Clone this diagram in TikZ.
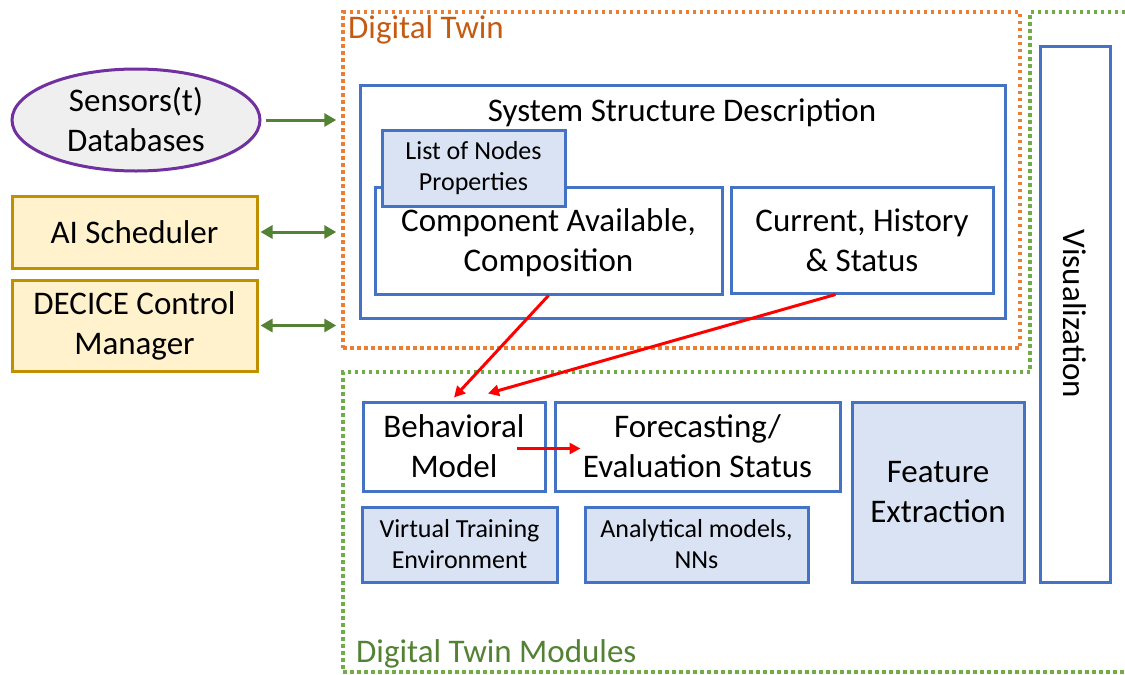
\documentclass[tikz,border=0pt]{standalone}
\usepackage{fontspec}
\setmainfont{Carlito}
\usetikzlibrary{shapes.geometric,arrows.meta,calc}

\definecolor{boxblue}{HTML}{4472C4}
\definecolor{lightblue}{HTML}{DAE3F3}
\definecolor{gold}{HTML}{BF9000}
\definecolor{cream}{HTML}{FFF2CC}
\definecolor{purp}{HTML}{7030A0}
\definecolor{lgray}{HTML}{EFEFEF}
\definecolor{arrgreen}{HTML}{548235}
\definecolor{dotgreen}{HTML}{70AD47}
\definecolor{dotorange}{HTML}{ED7D31}
\definecolor{dtorange}{HTML}{C55A11}
\definecolor{modgreen}{HTML}{548235}

\tikzset{
  big/.style={font=\fontsize{33}{40}\selectfont},
  small/.style={font=\fontsize{26}{31}\selectfont},
  bx/.style={draw=boxblue, line width=3pt, fill=white, align=center, inner sep=0pt, big},
  lbx/.style={bx, fill=lightblue},
  gbx/.style={draw=gold, line width=3pt, fill=cream, align=center, inner sep=0pt, big},
  zone/.style={line width=3.5pt, dash pattern=on 3.5pt off 3.5pt, inner sep=0pt},
  garrow/.style={draw=arrgreen, line width=3pt, -{Triangle[length=12pt,width=13pt]}},
  garrow2/.style={draw=arrgreen, line width=3pt, {Triangle[length=12pt,width=13pt]}-{Triangle[length=12pt,width=13pt]}},
  rarrow/.style={draw=red, line width=3pt, -{Triangle[length=11pt,width=11pt]}},
}

\begin{document}
\begin{tikzpicture}[x=1pt, y=-1pt]
\useasboundingbox[fill=white] (0,0) rectangle (1125,675);

% outer zones
\node[zone, draw=dotorange, minimum width=677, minimum height=336] (dt) at (681.5,180) {};
\node[anchor=north west, text=dtorange, big, inner sep=0pt] (dtlabel) at (348,15) {Digital Twin};
\draw[zone, draw=dotgreen] (1125,12) -- (1030,12) -- (1030,372) -- (343,372) -- (343,672) -- (1125,672);
\node[anchor=south west, text=modgreen, big, inner sep=0pt] (modlabel) at (356,668) {Digital Twin Modules};

% external inputs
\node[ellipse, draw=purp, fill=lgray, line width=3pt, minimum width=248, minimum height=102, align=center, inner sep=0pt, big] (sens) at (136,120) {Sensors(t)\\Databases};
\node[gbx, minimum width=245, minimum height=72] (ai) at (134.5,232) {AI Scheduler};
\node[gbx, minimum width=245, minimum height=91] (dec) at (134.5,325.5) {DECICE Control\\Manager};

% system structure description
\node[bx, minimum width=645, minimum height=233] (ssd) at (682.5,201.5) {};
\node[big, inner sep=0pt] (ssdlabel) at (682,113) {System Structure Description};
\node[bx, minimum width=347, minimum height=107] (comp) at (548.5,240.5) {};
\node[big, align=center, inner sep=0pt] (comptext) at (548.5,243) {Component Available,\\Composition};
\node[bx, minimum width=262, minimum height=106] (cur) at (862,240) {Current, History\\\& Status};
\node[lbx, small, minimum width=183, minimum height=76] (list) at (473.5,168) {List of Nodes\\Properties};

% visualization column
\node[bx, minimum width=70, minimum height=536] (vis) at (1075,314) {};
\node[big, rotate=-90, inner sep=0pt] (vislabel) at (vis.center) {Visualization};

% modules
\node[bx, minimum width=182, minimum height=89] (beh) at (454,446.5) {Behavioral\\Model};
\node[bx, minimum width=285, minimum height=89] (fore) at (697.5,446.5) {Forecasting/\\Evaluation Status};
\node[lbx, minimum width=172, minimum height=180] (feat) at (938,492) {Feature\\Extraction};
\node[lbx, small, minimum width=195, minimum height=75] (vte) at (459.5,544.5) {Virtual Training\\Environment};
\node[lbx, small, minimum width=223, minimum height=75] (ana) at (696.5,544.5) {Analytical models,\\NNs};

% green connectors to the digital twin
\draw[garrow] ([xshift=4pt]sens.east) -- ([xshift=-5pt]dt.west |- sens.east);
\draw[garrow2] ([xshift=2pt]ai.east) -- ([xshift=-5pt]dt.west |- ai.east);
\draw[garrow2] ([xshift=2pt]dec.east) -- ([xshift=-5pt]dt.west |- dec.east);

% red data flow
\draw[rarrow] (comp.south) -- ([yshift=3pt]beh.north);
\draw[rarrow] ($(cur.south west)!0.4!(cur.south east)$) -- ([xshift=34pt,yshift=7pt]beh.north);
\draw[rarrow] ([xshift=63pt,yshift=-2pt]beh.center) -- ([xshift=27pt,yshift=-2pt]fore.west);
\end{tikzpicture}
\end{document}
